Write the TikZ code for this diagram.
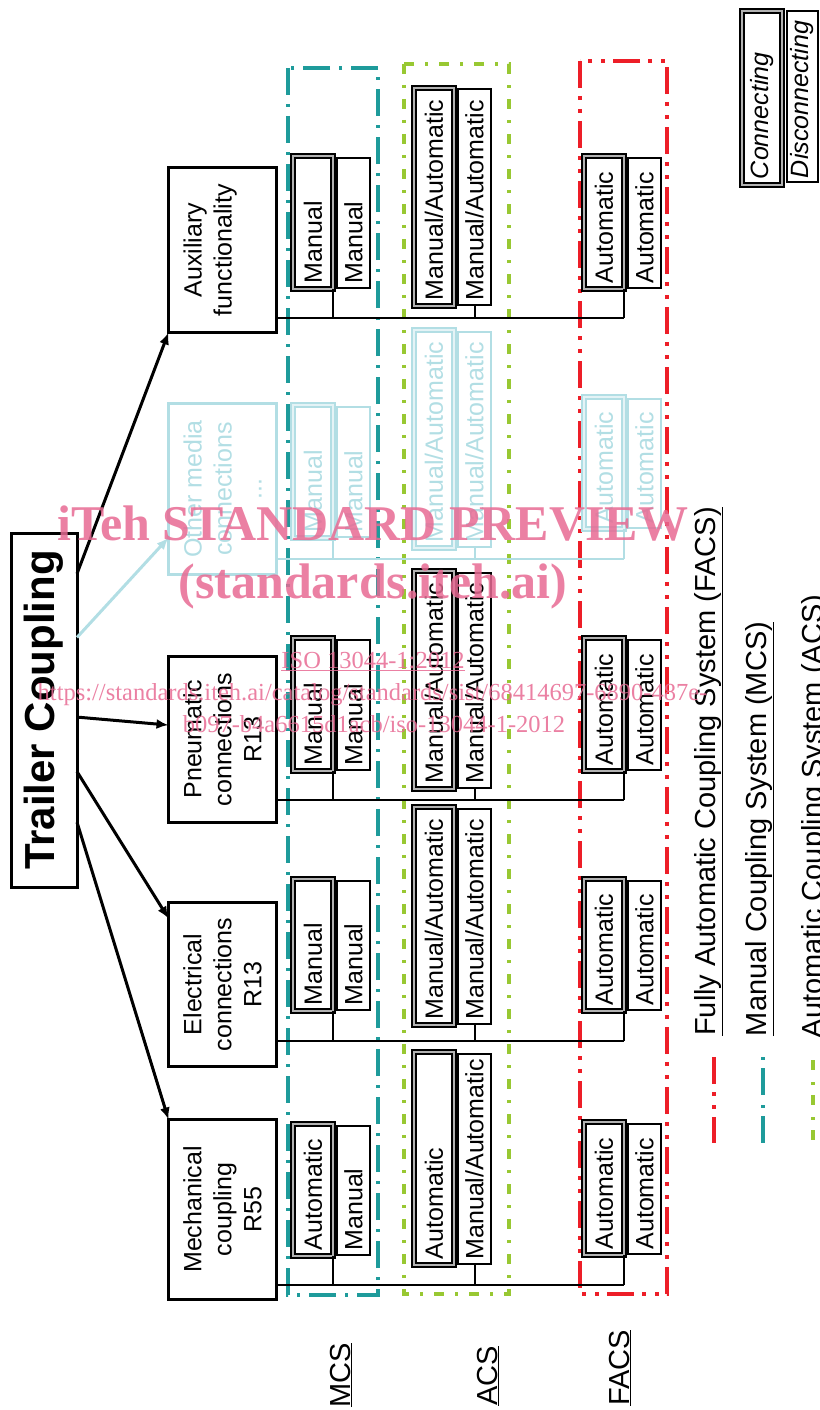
\documentclass[tikz,border=0pt]{standalone}
\usepackage{fontspec}
\setmainfont{Liberation Sans}
\newfontfamily\wmserif{Liberation Serif}
\usetikzlibrary{calc,arrows.meta}

\definecolor{mcsteal}{RGB}{30,155,155}
\definecolor{acsgreen}{RGB}{152,200,50}
\definecolor{facsred}{RGB}{237,30,40}
\definecolor{faded}{RGB}{178,222,228}
\definecolor{wmpink}{RGB}{231,106,147}
\colorlet{conngap}{gray!60}

\newcommand{\boxfont}{\fontsize{25}{30}\selectfont}

% connecting box (double) + disconnecting box, stub down to the row line
\newcommand{\cpair}[9][]{%
  \pgfmathsetmacro\pairtw{#5-12}%
  \pgfmathsetmacro\pairh{#5-3}%
  \pgfmathsetmacro\pairtv{#5-11}%
  \node (#2a) [conn,#1,minimum width=#5pt,text width=\pairtw pt,anchor=north west] at (#3,#4) {#6};
  \node (#2b) [disc,#1,minimum width=\pairh pt,text width=\pairtv pt,anchor=north west] at (#3+44,#4-1.5) {#7};
  \draw [wire,#1] (#2#8) -- (#2#8 |- #9);
}

\begin{document}
\begin{tikzpicture}[x=1pt,y=-1pt,every node/.style={outer sep=0pt}]
\tikzstyle{conn}=[draw,line width=2pt,double=conngap,double distance=1.5pt,rotate=90,inner xsep=6pt,minimum height=40pt,align=left,font=\boxfont]
\tikzstyle{disc}=[draw,line width=2pt,rotate=90,inner xsep=4pt,minimum height=33pt,align=left,font=\boxfont]
\tikzstyle{cat}=[draw,line width=2.5pt,rotate=90,align=center,minimum height=108pt,font=\boxfont]
\tikzstyle{wire}=[line width=2pt]
\tikzstyle{arr}=[line width=3pt,-{Latex[length=12pt,width=10pt]}]
\tikzstyle{fadedrow}=[draw=faded,text=faded,/utils/exec={\colorlet{conngap}{faded!35}}]
\tikzstyle{legend}=[rotate=90,anchor=base,font=\fontsize{29}{34}\selectfont]
\tikzstyle{wm}=[anchor=base,text=wmpink,text opacity=0.85]

\useasboundingbox (0,0) rectangle (819,1410);

% system frames
\draw [draw=mcsteal,line width=4pt,dash pattern=on 27pt off 9pt on 3pt off 9pt] (288,68) rectangle (378,1295);
\draw [draw=acsgreen,line width=4pt,dash pattern=on 10pt off 11pt on 3pt off 11pt] (404,64) rectangle (509,1294);
\draw [draw=facsred,line width=4pt,dash pattern=on 27pt off 8pt on 4pt off 9pt on 4pt off 8pt] (580,61) rectangle (667,1294);

% legend
\draw [draw=facsred,line width=4pt,dash pattern=on 27pt off 8pt on 4pt off 9pt on 4pt off 8pt] (714,1057) -- (714,1143);
\draw [draw=mcsteal,line width=4pt,dash pattern=on 3pt off 8pt on 27pt off 10pt] (763,1057) -- (763,1143);
\draw [draw=acsgreen,line width=4pt,dash pattern=on 10pt off 12pt on 3pt off 10pt] (813,1060) -- (813,1143);
\node (legF) [legend] at (715,771.5) {\underline{Fully Automatic Coupling System (FACS)}};
\node (legM) [legend] at (766,829) {\underline{Manual Coupling System (MCS)}};
\node (legA) [legend] at (822,816.5) {\underline{Automatic Coupling System (ACS)}};
\node (legC) [conn,minimum width=174pt,text width=162pt,anchor=north west,font=\boxfont\itshape] at (742,185) {Connecting};
\node (legD) [disc,minimum width=170pt,minimum height=31pt,text width=163pt,anchor=north west,font=\boxfont\itshape] at (787,182) {Disconnecting};

% main tree
\node (title) [draw,line width=3pt,rotate=90,minimum width=354pt,minimum height=66pt,font=\bfseries\fontsize{42}{50}\selectfont] at (44,710) {Trailer Coupling};

\node (aux) [cat,minimum width=165pt] at (222.5,250) {Auxiliary\\functionality\\\mbox{}};
\node (oth) [cat,fadedrow,minimum width=171pt] at (222.5,489) {Other media\\connections\\...};
\node (pneu) [cat,minimum width=166pt] at (222.5,739.5) {Pneumatic\\connections\\R13};
\node (elec) [cat,minimum width=164pt] at (222.5,984.5) {Electrical\\connections\\R13};
\node (mech) [cat,minimum width=180pt] at (222.5,1209.5) {Mechanical\\coupling\\R55};

\draw [arr] ($(title.south east)!0.115!(title.south west)$) -- (aux.north west);
\draw [arr,draw=faded] ($(title.south east)!0.295!(title.south west)$) -- ($(oth.north west)!0.215!(oth.north east)$);
\draw [arr] ($(title.south east)!0.52!(title.south west)$) -- ($(pneu.north west)!0.587!(pneu.north east)$);
\draw [arr] ($(title.south east)!0.674!(title.south west)$) -- ($(elec.north west)!0.903!(elec.north east)$);
\draw [arr] ($(title.south east)!0.817!(title.south west)$) -- (mech.north east);

% auxiliary functionality
\coordinate (auxL) at (277,318);
\cpair{auxM}{293}{289}{133}{Manual}{Manual}{a.south west}{auxL}
\cpair{auxA}{414}{306}{218}{Manual/Automatic}{Manual/Automatic}{b.west}{auxL}
\cpair{auxF}{584}{289}{133}{Automatic}{Automatic}{a.south west}{auxL}
\draw [wire] (auxL) -- (auxFa.south west |- auxL);

% other media (faded)
\coordinate (othL) at (277,559);
\cpair[fadedrow]{othM}{293}{538}{133}{Manual}{Manual}{a.south west}{othL}
\cpair[fadedrow]{othA}{414}{548}{218}{Manual/Automatic}{Manual/Automatic}{b.west}{othL}
\cpair[fadedrow]{othF}{584}{529}{132}{Automatic}{Automatic}{a.south west}{othL}
\draw [wire,fadedrow] (othL) -- (othFa.south west |- othL);

% pneumatic
\coordinate (pneuL) at (277,800);
\cpair{pneuM}{293}{771}{133}{Manual}{Manual}{a.south west}{pneuL}
\cpair{pneuA}{414}{789}{218}{Manual/Automatic}{Manual/Automatic}{b.west}{pneuL}
\cpair{pneuF}{584}{771}{133}{Automatic}{Automatic}{a.south west}{pneuL}
\draw [wire] (pneuL) -- (pneuFa.south west |- pneuL);

% electrical
\coordinate (elecL) at (277,1041);
\cpair{elecM}{293}{1011}{132}{Manual}{Manual}{a.south west}{elecL}
\cpair{elecA}{414}{1025}{218}{Manual/Automatic}{Manual/Automatic}{b.west}{elecL}
\cpair{elecF}{584}{1011}{132}{Automatic}{Automatic}{a.south west}{elecL}
\draw [wire] (elecL) -- (elecFa.south west |- elecL);

% mechanical
\coordinate (mechL) at (277,1285);
\cpair{mechM}{293}{1256}{132}{Automatic}{Manual}{a.south west}{mechL}
\cpair{mechA}{414}{1265}{213}{Automatic}{Manual/Automatic}{b.west}{mechL}
\cpair{mechF}{584}{1255}{133}{Automatic}{Automatic}{a.south west}{mechL}
\draw [wire] (mechL) -- (mechFa.south west |- mechL);

% row labels
\node (lblM) [legend] at (350,1375) {\underline{MCS}};
\node (lblA) [legend] at (497,1376) {\underline{ACS}};
\node (lblF) [legend] at (629,1368) {\underline{FACS}};

% watermark
\node (wm1) [wm,font=\wmserif\bfseries\fontsize{50}{50}\selectfont] at (373,540) {iTeh STANDARD PREVIEW};
\node (wm2) [wm,font=\wmserif\bfseries\fontsize{50}{50}\selectfont] at (373,598) {(standards.iteh.ai)};
\node (wm3) [wm,font=\wmserif\fontsize{24.5}{25}\selectfont] at (373,668) {\underline{ISO 13044-1:2012}};
\node (wm4) [wm,font=\wmserif\fontsize{24.5}{25}\selectfont] at (372.5,700) {https://standards.iteh.ai/catalog/standards/sist/68414697-6890-487e-};
\node (wm5) [wm,font=\wmserif\fontsize{24.5}{25}\selectfont] at (374,732) {b097-b4a6615d1acb/iso-13044-1-2012};
\end{tikzpicture}
\end{document}
